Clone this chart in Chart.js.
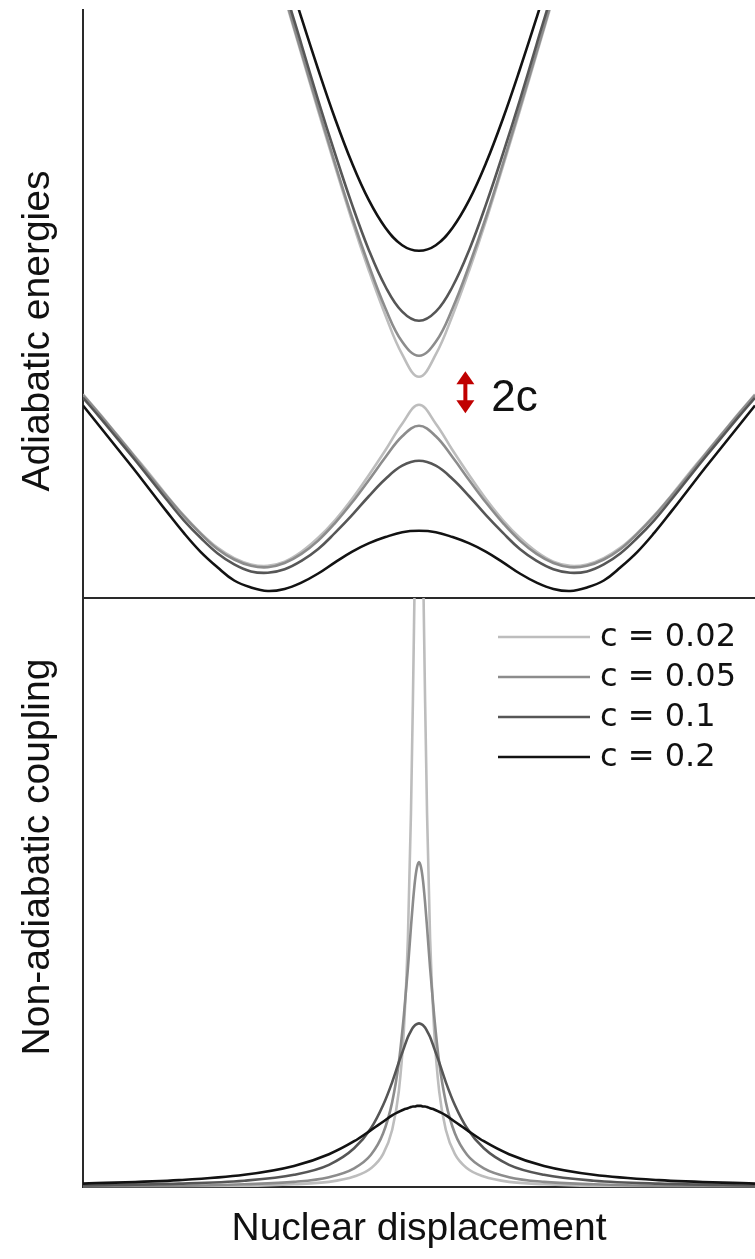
<!DOCTYPE html>
<html>
<head>
<meta charset="utf-8">
<script src="https://cdn.jsdelivr.net/npm/chart.js@4.4.1/dist/chart.umd.min.js"></script>
<style>
  html, body { margin: 0; padding: 0; background: #fff; }
  #wrap { position: relative; width: 755px; height: 1259px; }
  #energyBox { position: absolute; left: 0; top: 0; width: 755px; height: 600px; }
  #couplingBox { position: absolute; left: 0; top: 590px; width: 755px; height: 669px; }
</style>
</head>
<body>
<div id="wrap">
  <div id="energyBox"><canvas id="energyChart"></canvas></div>
  <div id="couplingBox"><canvas id="couplingChart"></canvas></div>
</div>
<script>
'use strict';

// coupling strengths, one curve (or pair of curves) each
const couplingLabels = ['c = 0.02', 'c = 0.05', 'c = 0.1', 'c = 0.2'];
const lineColors = ['#bdbdbd', '#8c8c8c', '#565656', '#121212'];

// top panel: lower adiabatic surface
const xLower = [-1, -0.95, -0.9, -0.85, -0.8, -0.75, -0.7, -0.65, -0.6, -0.55, -0.5, -0.45, -0.4, -0.35, -0.3, -0.25, -0.2, -0.15, -0.1, -0.05, 0,
                0.05, 0.1, 0.15, 0.2, 0.25, 0.3, 0.35, 0.4, 0.45, 0.5, 0.55, 0.6, 0.65, 0.7, 0.75, 0.8, 0.85, 0.9, 0.95, 1];
const lower002 = [0.291, 0.263, 0.234, 0.205, 0.176, 0.146, 0.118, 0.093, 0.072, 0.057, 0.048, 0.046, 0.052, 0.066, 0.086, 0.111, 0.141, 0.175, 0.211, 0.249, 0.276,
                  0.249, 0.211, 0.175, 0.141, 0.111, 0.086, 0.066, 0.052, 0.046, 0.048, 0.057, 0.072, 0.093, 0.118, 0.146, 0.176, 0.205, 0.234, 0.263, 0.291];
const lower005 = [0.290, 0.262, 0.233, 0.204, 0.174, 0.145, 0.117, 0.092, 0.070, 0.055, 0.046, 0.044, 0.050, 0.063, 0.082, 0.107, 0.136, 0.168, 0.201, 0.231, 0.246,
                  0.231, 0.201, 0.168, 0.136, 0.107, 0.082, 0.063, 0.050, 0.044, 0.046, 0.055, 0.070, 0.092, 0.117, 0.145, 0.174, 0.204, 0.233, 0.262, 0.290];
const lower01  = [0.286, 0.258, 0.229, 0.200, 0.170, 0.140, 0.111, 0.086, 0.064, 0.048, 0.038, 0.036, 0.041, 0.053, 0.070, 0.093, 0.118, 0.145, 0.170, 0.189, 0.196,
                  0.189, 0.170, 0.145, 0.118, 0.093, 0.070, 0.053, 0.041, 0.036, 0.038, 0.048, 0.064, 0.086, 0.111, 0.140, 0.170, 0.200, 0.229, 0.258, 0.286];
const lower02  = [0.275, 0.245, 0.215, 0.185, 0.154, 0.123, 0.093, 0.066, 0.044, 0.025, 0.015, 0.010, 0.013, 0.022, 0.035, 0.051, 0.066, 0.078, 0.087, 0.094, 0.096,
                  0.094, 0.087, 0.078, 0.066, 0.051, 0.035, 0.022, 0.013, 0.010, 0.015, 0.025, 0.044, 0.066, 0.093, 0.123, 0.154, 0.185, 0.215, 0.245, 0.275];

// top panel: upper adiabatic surface (runs off the top beyond |x| = 0.4)
const xUpper = [-0.45, -0.4, -0.35, -0.3, -0.25, -0.2, -0.15, -0.1, -0.05, 0, 0.05, 0.1, 0.15, 0.2, 0.25, 0.3, 0.35, 0.4, 0.45];
const upper002 = [0.946, 0.859, 0.777, 0.696, 0.617, 0.540, 0.469, 0.404, 0.348, 0.316, 0.348, 0.404, 0.469, 0.540, 0.617, 0.696, 0.777, 0.859, 0.946];
const upper005 = [0.949, 0.862, 0.780, 0.700, 0.621, 0.545, 0.476, 0.414, 0.366, 0.346, 0.366, 0.414, 0.476, 0.545, 0.621, 0.700, 0.780, 0.862, 0.949];
const upper01  = [0.957, 0.871, 0.791, 0.711, 0.635, 0.563, 0.498, 0.445, 0.409, 0.396, 0.409, 0.445, 0.498, 0.563, 0.635, 0.711, 0.791, 0.871, 0.957];
const upper02  = [0.988, 0.906, 0.829, 0.755, 0.685, 0.622, 0.569, 0.529, 0.504, 0.496, 0.504, 0.529, 0.569, 0.622, 0.685, 0.755, 0.829, 0.906, 0.988];

// bottom panel: non-adiabatic coupling
const xCoupling = [-1, -0.714, -0.52, -0.372, -0.268, -0.193, -0.143, -0.107, -0.08, -0.06, -0.045, -0.033, -0.024, -0.018, -0.012, -0.006, 0,
                   0.006, 0.012, 0.018, 0.024, 0.033, 0.045, 0.06, 0.08, 0.107, 0.143, 0.193, 0.268, 0.372, 0.52, 0.714, 1];
const nac002 = [0.001, 0.001, 0.002, 0.005, 0.009, 0.018, 0.032, 0.056, 0.097, 0.163, 0.267, 0.423, 0.633, 0.830, 1.065, 1.282, 1.375,
                1.282, 1.065, 0.830, 0.633, 0.423, 0.267, 0.163, 0.097, 0.056, 0.032, 0.018, 0.009, 0.005, 0.002, 0.001, 0.001];
const nac005 = [0.001, 0.002, 0.005, 0.009, 0.017, 0.032, 0.055, 0.091, 0.144, 0.212, 0.292, 0.372, 0.441, 0.484, 0.520, 0.543, 0.552,
                0.543, 0.520, 0.484, 0.441, 0.372, 0.292, 0.212, 0.144, 0.091, 0.055, 0.032, 0.017, 0.009, 0.005, 0.002, 0.001];
const nac01  = [0.003, 0.006, 0.011, 0.021, 0.038, 0.066, 0.100, 0.139, 0.178, 0.212, 0.236, 0.255, 0.265, 0.271, 0.275, 0.277, 0.278,
                0.277, 0.275, 0.271, 0.265, 0.255, 0.236, 0.212, 0.178, 0.139, 0.100, 0.066, 0.038, 0.021, 0.011, 0.006, 0.003];
const nac02  = [0.006, 0.012, 0.021, 0.036, 0.056, 0.078, 0.097, 0.111, 0.122, 0.128, 0.132, 0.134, 0.136, 0.137, 0.137, 0.138, 0.138,
                0.138, 0.137, 0.137, 0.136, 0.134, 0.132, 0.128, 0.122, 0.111, 0.097, 0.078, 0.056, 0.036, 0.021, 0.012, 0.006];

// where the 2c marker sits (data units)
const gapMarkX = 0.138;
const crossingEnergy = 0.294;

const FONT = '"Liberation Sans", Arial, Helvetica, sans-serif';

const pts = (xs, ys) => xs.map((x, i) => ({x: x, y: ys[i]}));

const curve = (label, xs, ys, i, smooth) => ({
    label: label,
    data: pts(xs, ys),
    borderColor: lineColors[i],
    borderWidth: 2.6,
    pointRadius: 0,
    fill: false,
    tension: 0.4,
    cubicInterpolationMode: smooth,
    clip: 0,
    order: 3 - i
});

const plainAxis = (min, max) => ({
    type: 'linear',
    min: min,
    max: max,
    grid: {display: false, drawTicks: false},
    ticks: {display: false},
    border: {display: true, color: '#2a2a2a', width: 2}
});

// rotated axis caption drawn at a fixed place
const sideLabel = {
    id: 'sideLabel',
    afterDraw(chart, args, opts) {
        const ctx = chart.ctx;
        ctx.save();
        ctx.translate(opts.x, opts.y);
        ctx.rotate(-Math.PI / 2);
        ctx.font = '39px ' + FONT;
        ctx.fillStyle = '#111';
        ctx.textAlign = 'center';
        ctx.textBaseline = 'middle';
        ctx.fillText(opts.text, 0, 0);
        ctx.restore();
    }
};

// red double arrow with "2c"
const gapMark = {
    id: 'gapMark',
    afterDatasetsDraw(chart) {
        const ctx = chart.ctx;
        const x = chart.scales.x.getPixelForValue(gapMarkX);
        const y = chart.scales.y.getPixelForValue(crossingEnergy);
        const half = 21, head = 13, hw = 9;
        ctx.save();
        ctx.fillStyle = '#c00000';
        ctx.fillRect(x - 2, y - half + head - 1, 4, 2 * (half - head) + 2);
        ctx.beginPath();
        ctx.moveTo(x, y - half);
        ctx.lineTo(x + hw, y - half + head);
        ctx.lineTo(x - hw, y - half + head);
        ctx.closePath();
        ctx.fill();
        ctx.beginPath();
        ctx.moveTo(x, y + half);
        ctx.lineTo(x + hw, y + half - head);
        ctx.lineTo(x - hw, y + half - head);
        ctx.closePath();
        ctx.fill();
        ctx.fillStyle = '#111';
        ctx.font = '44px ' + FONT;
        ctx.textBaseline = 'alphabetic';
        ctx.fillText('2c', x + 26, y + 19);
        ctx.restore();
    }
};

// legend: short line + label, top right of the lower panel
const lineKey = {
    id: 'lineKey',
    afterDraw(chart, args, opts) {
        const {ctx, chartArea} = chart;
        ctx.save();
        ctx.font = '32px "DejaVu Sans", sans-serif';
        ctx.textBaseline = 'middle';
        chart.data.datasets.forEach((ds, i) => {
            const y = chartArea.top + opts.top + i * opts.rowGap;
            const x0 = chartArea.right - opts.right;
            ctx.strokeStyle = ds.borderColor;
            ctx.lineWidth = ds.borderWidth;
            ctx.beginPath();
            ctx.moveTo(x0, y);
            ctx.lineTo(x0 + 92, y);
            ctx.stroke();
            ctx.fillStyle = '#111';
            ctx.fillText(ds.label, x0 + 102, y + 1);
        });
        ctx.restore();
    }
};

const ctxTop = document.getElementById('energyChart').getContext('2d');
new Chart(ctxTop, {
    type: 'line',
    data: {
        datasets: [
            curve(couplingLabels[0], xLower, lower002, 0, 'default'),
            curve(couplingLabels[1], xLower, lower005, 1, 'default'),
            curve(couplingLabels[2], xLower, lower01, 2, 'default'),
            curve(couplingLabels[3], xLower, lower02, 3, 'default'),
            curve(couplingLabels[0], xUpper, upper002, 0, 'default'),
            curve(couplingLabels[1], xUpper, upper005, 1, 'default'),
            curve(couplingLabels[2], xUpper, upper01, 2, 'default'),
            curve(couplingLabels[3], xUpper, upper02, 3, 'default')
        ]
    },
    options: {
        responsive: true,
        maintainAspectRatio: false,
        animation: false,
        events: [],
        layout: {padding: {left: 83, right: 0, top: 10, bottom: 2}},
        scales: {
            x: plainAxis(-1, 1),
            y: plainAxis(0, 0.84)
        },
        plugins: {
            legend: {display: false},
            tooltip: {enabled: false},
            sideLabel: {text: 'Adiabatic energies', x: 38, y: 331}
        }
    },
    plugins: [sideLabel, gapMark]
});

const ctxBottom = document.getElementById('couplingChart').getContext('2d');
const xAxisBottom = plainAxis(-1, 1);
xAxisBottom.title = {
    display: true,
    text: 'Nuclear displacement',
    color: '#111',
    font: {family: FONT, size: 39},
    padding: {top: 19, bottom: 6}
};

new Chart(ctxBottom, {
    type: 'line',
    data: {
        datasets: [
            curve(couplingLabels[0], xCoupling, nac002, 0, 'monotone'),
            curve(couplingLabels[1], xCoupling, nac005, 1, 'monotone'),
            curve(couplingLabels[2], xCoupling, nac01, 2, 'monotone'),
            curve(couplingLabels[3], xCoupling, nac02, 3, 'monotone')
        ]
    },
    options: {
        responsive: true,
        maintainAspectRatio: false,
        animation: false,
        events: [],
        layout: {padding: {left: 83, right: 0, top: 8, bottom: 0}},
        scales: {
            x: xAxisBottom,
            y: plainAxis(0, 1)
        },
        plugins: {
            legend: {display: false},
            tooltip: {enabled: false},
            sideLabel: {text: 'Non-adiabatic coupling', x: 38, y: 267},
            lineKey: {top: 39, rowGap: 40, right: 257}
        }
    },
    plugins: [sideLabel, lineKey]
});
</script>
</body>
</html>
